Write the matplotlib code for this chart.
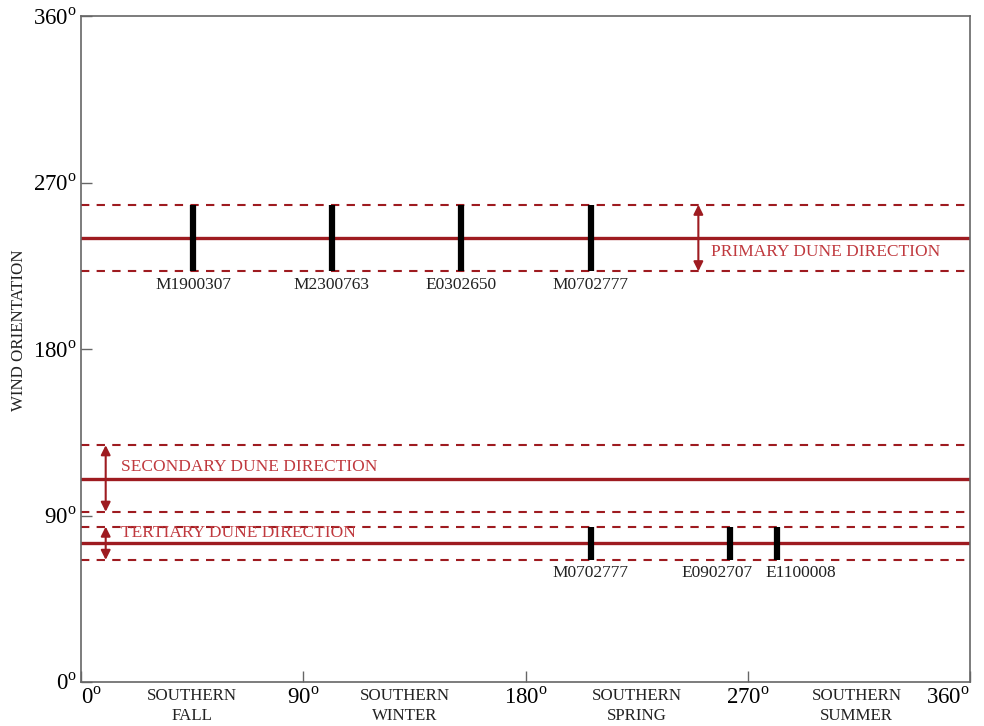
import matplotlib
matplotlib.use("Agg")
import matplotlib.pyplot as plt
from matplotlib.transforms import offset_copy

plt.rcParams['font.family'] = ['Liberation Serif', 'DejaVu Serif']
plt.rcParams['mathtext.fontset'] = 'custom'
plt.rcParams['mathtext.rm'] = 'Liberation Serif'

# Dune directions: (label, center, half-width)
dune_names = ["PRIMARY DUNE DIRECTION", "SECONDARY DUNE DIRECTION", "TERTIARY DUNE DIRECTION"]
dune_center = [240, 110, 75]
dune_half = [18, 18, 9]
dune_arrow_x = [250, 10, 10]

# Wind observations: name, seasonal angle (Ls), dune set index
obs_names = ["M1900307", "M2300763", "E0302650", "M0702777", "M0702777", "E0902707", "E1100008"]
obs_ls = [45.5, 101.5, 154, 206.5, 206.5, 263, 282]
obs_dune = [0, 0, 0, 0, 2, 2, 2]

seasons = ["SOUTHERN\nFALL", "SOUTHERN\nWINTER", "SOUTHERN\nSPRING", "SOUTHERN\nSUMMER"]
season_x = [45, 131, 225, 314]
ticks = [0, 90, 180, 270, 360]

RED = "#9e1b20"
TXT_RED = "#c0393e"
GRAY = "#666666"
DARK = "#222222"

fig = plt.figure(figsize=(9.84, 7.26), dpi=100)
ax = fig.add_axes([81/984, 44/726, 889/984, 666/726])
ax.set_xlim(0, 360)
ax.set_ylim(0, 360)

for c, h in zip(dune_center, dune_half):
    ax.axhline(c, color=RED, lw=2.4, zorder=2)
    ax.axhline(c + h, color=RED, lw=1.5, ls=(0, (4, 3.5)), zorder=2)
    ax.axhline(c - h, color=RED, lw=1.5, ls=(0, (4, 3.5)), zorder=2)

for name, c, h, ax_x in zip(dune_names, dune_center, dune_half, dune_arrow_x):
    ax.annotate("", xy=(ax_x, c + h), xytext=(ax_x, c - h),
                arrowprops=dict(arrowstyle="<|-|>", color=RED, lw=1.5,
                                mutation_scale=14, shrinkA=0, shrinkB=0), zorder=3)

ax.text(255, 232.5, dune_names[0], color=TXT_RED, fontsize=12.5, ha='left', va='center')
ax.text(16, 116, dune_names[1], color=TXT_RED, fontsize=12.5, ha='left', va='center')
ax.text(16, 80.5, dune_names[2], color=TXT_RED, fontsize=12.5, ha='left', va='center')

# label nudges (points) to avoid overlap between neighbouring labels
label_dx = [0, 0, 0, 0, 0, -10, 17]
for name, x, d, dx in zip(obs_names, obs_ls, obs_dune, label_dx):
    c, h = dune_center[d], dune_half[d]
    ax.plot([x, x], [c - h, c + h], color='black', lw=4.5, solid_capstyle='butt', zorder=4)
    tr = offset_copy(ax.transData, fig=fig, x=dx, y=-4, units='points')
    ax.text(x, c - h, name, ha='center', va='top', fontsize=12.5, color=DARK, transform=tr)

for s, x in zip(seasons, season_x):
    ax.text(x, -3, s, ha='center', va='top', fontsize=12.2, color=DARK,
            clip_on=False, linespacing=1.35)

ax.set_xticks(ticks)
ax.set_yticks(ticks)
xl = ax.set_xticklabels([r"%d$^{\rm o}$" % t for t in ticks], fontsize=16.5)
ax.set_yticklabels([r"%d$^{\rm o}$" % t for t in ticks], fontsize=16.5)
xl[0].set_ha('left')
xl[-1].set_ha('right')
ax.tick_params(axis='both', direction='in', length=8, width=1, color=GRAY, pad=3)
ax.tick_params(axis='x', pad=4)
for sp in ax.spines.values():
    sp.set_color(GRAY)
    sp.set_linewidth(1.2)
fig.text(19/984, 1 - 330/726, "WIND ORIENTATION", rotation=90, fontsize=12.2,
         ha='center', va='center', color=DARK)

fig.savefig("out.png", dpi=100)
